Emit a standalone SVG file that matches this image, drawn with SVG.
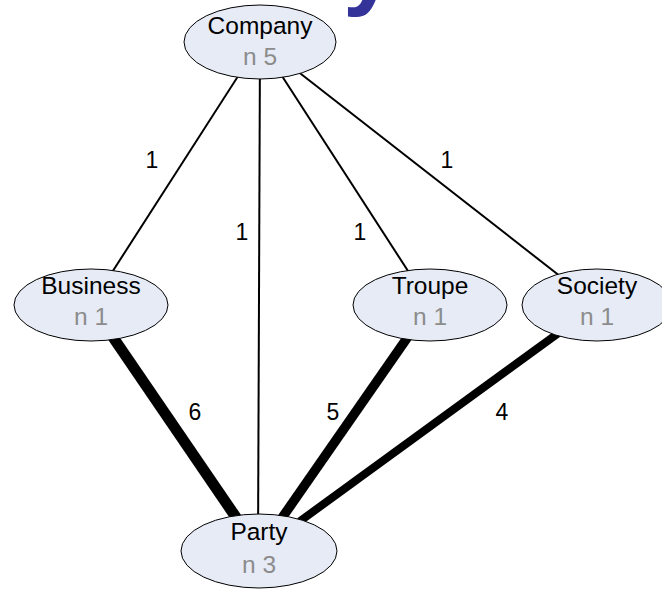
<svg xmlns="http://www.w3.org/2000/svg" width="662" height="590" viewBox="0 0 662 590">
<style>
.bg{fill:#ffffff}
.node ellipse{fill:#e6ebf6;stroke:#000;stroke-width:1}
.name{font-family:"Liberation Sans",Arial,sans-serif;font-size:24.5px;fill:#000;text-anchor:middle}
.count{font-family:"Liberation Sans",Arial,sans-serif;font-size:24.5px;fill:#8c8c8c;text-anchor:middle}
.edge{stroke:#000;fill:none}
.lbl{font-family:"Liberation Sans",Arial,sans-serif;font-size:23px;fill:#000;text-anchor:middle}
.title{font-family:"Liberation Sans",Arial,sans-serif;font-weight:bold;font-size:96px;fill:#333399}
</style>
<rect class="bg" x="0" y="0" width="662" height="590"/>
<text class="title" x="343" y="-3">y</text>
<g id="connectors">
<line class="edge" x1="260" y1="42" x2="91" y2="305" stroke-width="2"/>
<line class="edge" x1="260" y1="42" x2="258" y2="551" stroke-width="2"/>
<line class="edge" x1="260" y1="42" x2="430" y2="305" stroke-width="2"/>
<line class="edge" x1="260" y1="42" x2="597" y2="305" stroke-width="2"/>
<line class="edge" x1="91" y1="305" x2="259" y2="551" stroke-width="11"/>
<line class="edge" x1="430" y1="305" x2="259" y2="551" stroke-width="9.5"/>
<line class="edge" x1="597" y1="305" x2="259" y2="551" stroke-width="8"/>
<text class="lbl" x="152" y="168">1</text>
<text class="lbl" x="242" y="240">1</text>
<text class="lbl" x="360" y="240">1</text>
<text class="lbl" x="447" y="168">1</text>
<text class="lbl" x="195" y="420">6</text>
<text class="lbl" x="333" y="420">5</text>
<text class="lbl" x="502" y="420">4</text>
</g>
<g id="company" class="node">
<ellipse cx="260" cy="42" rx="76" ry="37"/>
<text class="name" x="260" y="34">Company</text>
<text class="count" x="260" y="65">n 5</text>
</g>
<g id="business" class="node">
<ellipse cx="91" cy="305" rx="77" ry="36"/>
<text class="name" x="91" y="294">Business</text>
<text class="count" x="91" y="325">n 1</text>
</g>
<g id="troupe" class="node">
<ellipse cx="430" cy="305" rx="77" ry="36"/>
<text class="name" x="430" y="294">Troupe</text>
<text class="count" x="430" y="325">n 1</text>
</g>
<g id="society" class="node">
<ellipse cx="597" cy="305" rx="75" ry="36"/>
<text class="name" x="597" y="294">Society</text>
<text class="count" x="597" y="325">n 1</text>
</g>
<g id="party" class="node">
<ellipse cx="259" cy="551" rx="78" ry="37"/>
<text class="name" x="259" y="540">Party</text>
<text class="count" x="259" y="573">n 3</text>
</g>
</svg>
